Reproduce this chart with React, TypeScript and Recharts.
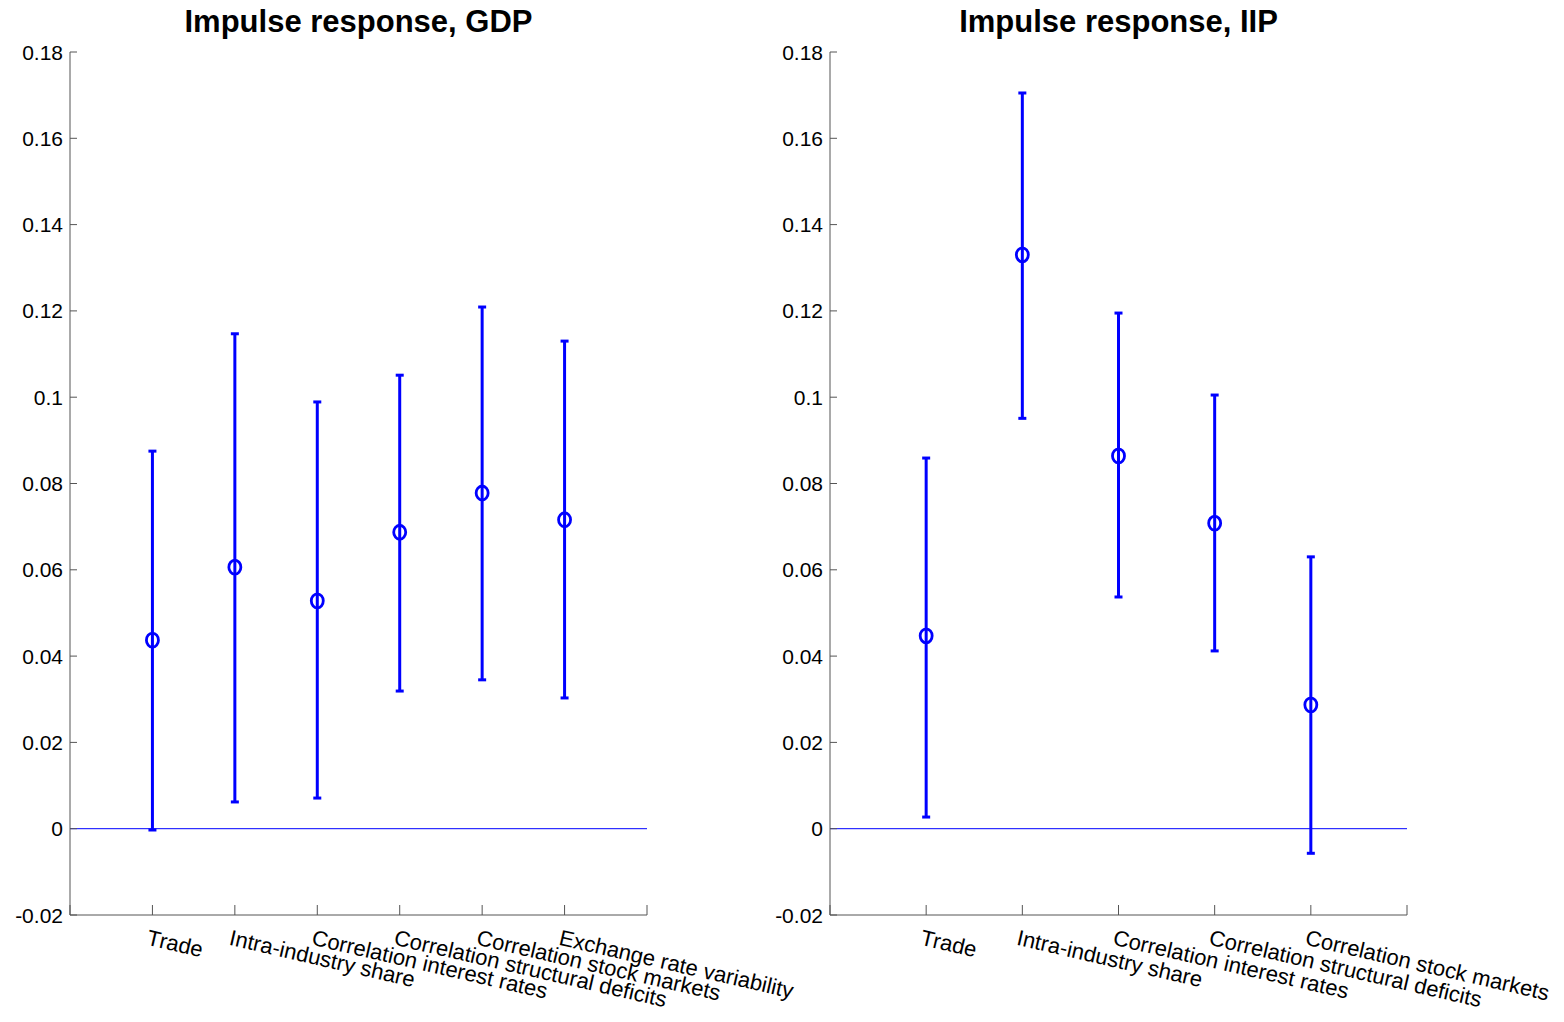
import React from 'react';
import { ComposedChart, Scatter, ErrorBar, XAxis, YAxis, ReferenceLine } from 'recharts';

const gdpCategories = [
  'Trade',
  'Intra-industry share',
  'Correlation interest rates',
  'Correlation structural deficits',
  'Correlation stock markets',
  'Exchange rate variability',
];
const gdpMean = [0.0437, 0.0606, 0.0528, 0.0687, 0.0778, 0.0716];
const gdpLower = [-0.0003, 0.0062, 0.0071, 0.0319, 0.0345, 0.0303];
const gdpUpper = [0.0875, 0.1147, 0.0989, 0.1051, 0.1209, 0.113];

const iipCategories = [
  'Trade',
  'Intra-industry share',
  'Correlation interest rates',
  'Correlation structural deficits',
  'Correlation stock markets',
];
const iipMean = [0.0447, 0.133, 0.0864, 0.0708, 0.0287];
const iipLower = [0.0027, 0.0951, 0.0537, 0.0412, -0.0057];
const iipUpper = [0.0859, 0.1705, 0.1195, 0.1005, 0.063];

const yTicks = [-0.02, 0, 0.02, 0.04, 0.06, 0.08, 0.1, 0.12, 0.14, 0.16, 0.18];

const FONT = '"Liberation Sans", Arial, Helvetica, sans-serif';
const BLUE = '#0000ff';
const AXIS = '#555555';

type PanelProps = {
  title: string;
  categories: string[];
  mean: number[];
  lower: number[];
  upper: number[];
  left: number;
  width: number;
  marginRight: number;
};

function Panel({ title, categories, mean, lower, upper, left, width, marginRight }: PanelProps) {
  const data = categories.map((c, i) => ({
    x: i + 1,
    y: mean[i],
    err: [mean[i] - lower[i], upper[i] - mean[i]],
  }));
  const n = categories.length;
  const xTicks = Array.from({ length: n + 2 }, (_, i) => i);
  const plotLeft = left + 70;
  const plotRight = left + width - marginRight;
  const center = (plotLeft + plotRight) / 2;

  const XTick = (props: any) => {
    const { x, y, payload } = props;
    const idx = payload.value;
    const label = idx >= 1 && idx <= n ? categories[idx - 1] : '';
    return (
      <g>
        <line x1={x} y1={y} x2={x} y2={y - 10} stroke={AXIS} strokeWidth={1} />
        {label && (
          <text
            x={0}
            y={0}
            transform={`translate(${x - 3}, ${y + 14}) rotate(13)`}
            textAnchor="start"
            dominantBaseline="hanging"
            fontSize={22}
            fontFamily={FONT}
            fill="#000"
          >
            {label}
          </text>
        )}
      </g>
    );
  };

  const YTick = (props: any) => {
    const { x, y, payload } = props;
    const v = Number(Number(payload.value).toFixed(2));
    return (
      <g>
        <line x1={x} y1={y} x2={x + 7} y2={y} stroke={AXIS} strokeWidth={1} />
        <text
          x={x - 7}
          y={y}
          textAnchor="end"
          dominantBaseline="central"
          fontSize={21}
          fontFamily={FONT}
          fill="#000"
        >
          {String(v)}
        </text>
      </g>
    );
  };

  const Marker = (props: any) => {
    const { cx, cy } = props;
    return <ellipse cx={cx} cy={cy} rx={6} ry={7} fill="none" stroke={BLUE} strokeWidth={2.8} />;
  };

  return (
    <>
      <div
        style={{
          position: 'absolute',
          left: center - 300,
          width: 600,
          top: 6,
          textAlign: 'center',
          fontFamily: FONT,
          fontWeight: 'bold',
          fontSize: 31,
          lineHeight: '31px',
          color: '#000',
        }}
      >
        {title}
      </div>
      <div style={{ position: 'absolute', left, top: 0 }}>
        <ComposedChart
          width={width}
          height={1022}
          data={data}
          margin={{ top: 52, right: marginRight, left: 0, bottom: 7 }}
        >
          <XAxis
            type="number"
            dataKey="x"
            domain={[0, n + 1]}
            ticks={xTicks}
            interval={0}
            allowDecimals={false}
            stroke={AXIS}
            tickLine={false}
            tickSize={0}
            tickMargin={0}
            height={100}
            tick={<XTick />}
          />
          <YAxis
            type="number"
            domain={[-0.02, 0.18]}
            ticks={yTicks}
            interval={0}
            stroke={AXIS}
            tickLine={false}
            tickSize={0}
            tickMargin={0}
            width={70}
            tick={<YTick />}
          />
          <ReferenceLine y={0} stroke={BLUE} strokeWidth={1} />
          <Scatter dataKey="y" fill={BLUE} shape={<Marker />} isAnimationActive={false}>
            <ErrorBar dataKey="err" direction="y" width={4} stroke={BLUE} strokeWidth={3} />
          </Scatter>
        </ComposedChart>
      </div>
    </>
  );
}

export default function App() {
  return (
    <div style={{ position: 'absolute', left: 0, top: 0, width: 1564, height: 1022, background: '#fff' }}>
      <style>{`.recharts-surface{overflow:visible}`}</style>
      <Panel
        title="Impulse response, GDP"
        categories={gdpCategories}
        mean={gdpMean}
        lower={gdpLower}
        upper={gdpUpper}
        left={0}
        width={782}
        marginRight={135}
      />
      <Panel
        title="Impulse response, IIP"
        categories={iipCategories}
        mean={iipMean}
        lower={iipLower}
        upper={iipUpper}
        left={760}
        width={804}
        marginRight={157}
      />
    </div>
  );
}
